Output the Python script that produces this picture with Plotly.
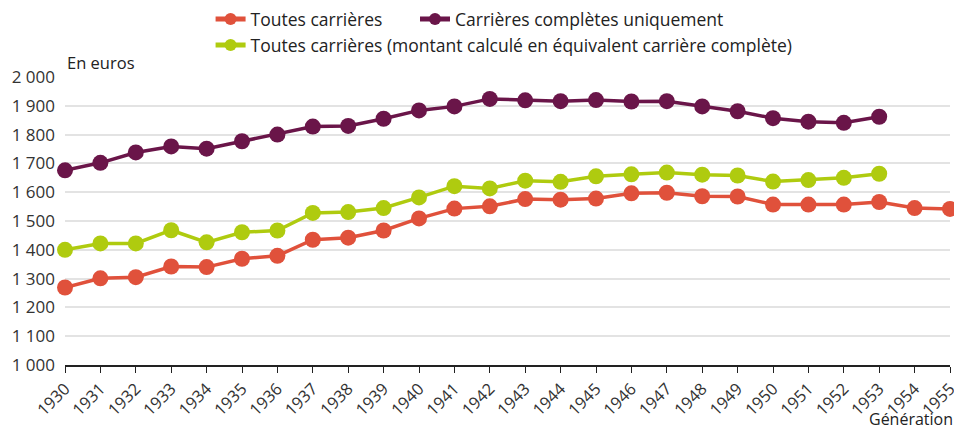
import plotly.graph_objects as go

generations = list(range(1930, 1956))

toutes = [1269, 1301, 1305, 1342, 1340, 1369, 1379, 1435, 1442, 1467,
          1509, 1543, 1551, 1576, 1574, 1578, 1596, 1598, 1586, 1585,
          1557, 1557, 1557, 1566, 1545, 1542]

completes = [1676, 1702, 1738, 1759, 1751, 1777, 1800, 1828, 1830, 1855,
             1884, 1898, 1924, 1919, 1916, 1920, 1915, 1916, 1898, 1881,
             1857, 1845, 1841, 1862]

equivalent = [1400, 1422, 1422, 1468, 1426, 1461, 1467, 1528, 1531, 1545,
              1582, 1621, 1613, 1640, 1636, 1655, 1662, 1668, 1661, 1658,
              1637, 1642, 1650, 1664]

series = [
    ("Toutes carrières", toutes, "#E0513B", "legend"),
    ("Carrières complètes uniquement", completes, "#6A1549", "legend3"),
    ("Toutes carrières (montant calculé en équivalent carrière complète)", equivalent, "#AFCB0F", "legend2"),
]

font_family = "'Open Sans', sans-serif"

fig = go.Figure()

for name, values, color, leg in series:
    fig.add_trace(
        go.Scatter(
            x=generations[:len(values)],
            y=values,
            name=name,
            legend=leg,
            mode="lines+markers",
            line={"color": color, "width": 3.5},
            marker={"size": 16, "color": color},
            cliponaxis=False,
        )
    )

# the page body keeps its default 8px margin, so the figure is 8px smaller
legend_style = {
    "orientation": "h",
    "x": 0.1645,
    "xanchor": "left",
    "yanchor": "middle",
    "font": {"size": 17.5, "color": "#222222"},
    "itemsizing": "constant",
    "bgcolor": "rgba(0,0,0,0)",
}

fig.update_layout(
    width=954,
    height=424,
    margin={"l": 57, "r": 12, "t": 69, "b": 67, "autoexpand": False},
    plot_bgcolor="white",
    paper_bgcolor="white",
    separators=", ",
    font={"family": font_family, "size": 16, "color": "#333333"},
    showlegend=True,
    legend={**legend_style, "y": 1.201},
    legend3={**legend_style, "y": 1.201, "x": 0.3955},
    legend2={**legend_style, "y": 1.111},
    xaxis={
        "range": [1930, 1955],
        "tickmode": "array",
        "tickvals": generations,
        "ticktext": [str(g) for g in generations],
        "tickangle": -45,
        "tickfont": {"size": 16.5, "color": "#333333"},
        "showgrid": False,
        "showline": True,
        "linecolor": "#222222",
        "linewidth": 1.5,
        "ticks": "outside",
        "ticklen": 6,
        "tickcolor": "#222222",
        "zeroline": False,
    },
    yaxis={
        "range": [1000, 2000],
        "dtick": 100,
        "tickformat": ",d",
        "showgrid": True,
        "gridcolor": "#e3e3e3",
        "gridwidth": 1.5,
        "zeroline": False,
        "tickfont": {"size": 17, "color": "#333333"},
        "ticks": "",
        "ticklabelstandoff": 9,
    },
    annotations=[
        {
            "text": "En euros",
            "xref": "paper",
            "yref": "paper",
            "x": 0,
            "y": 1.049,
            "xanchor": "left",
            "yanchor": "middle",
            "showarrow": False,
            "font": {"size": 16.5, "color": "#222222"},
        },
        {
            "text": "Génération",
            "xref": "paper",
            "yref": "paper",
            "x": 1.0056,
            "y": -0.187,
            "xanchor": "right",
            "yanchor": "middle",
            "showarrow": False,
            "font": {"size": 16, "color": "#222222"},
        },
    ],
)

fig.write_html("out.html")
